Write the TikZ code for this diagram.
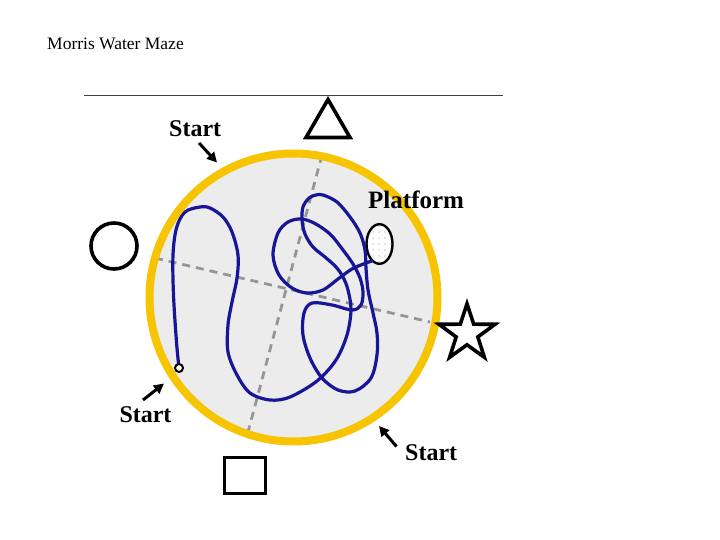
\documentclass[tikz,border=0pt]{standalone}
\usepackage{fontspec}
\setmainfont{Liberation Serif}
\usetikzlibrary{arrows.meta}
\definecolor{ringc}{RGB}{246,196,0}
\definecolor{poolc}{RGB}{236,236,236}
\definecolor{swimc}{RGB}{22,22,150}
\definecolor{axisc}{RGB}{150,150,150}
\begin{document}
\begin{tikzpicture}[x=1pt,y=-1pt,
  sym/.style={draw=black, line width=3.6pt, line join=miter},
  axisline/.style={draw=axisc, line width=2.8pt, dash pattern=on 8pt off 6pt},
  swimline/.style={draw=swimc, line width=3.2pt, line join=round, line cap=round},
  arr/.style={draw=black, line width=3pt, -{Triangle[length=10pt,width=10pt]}},
  lab/.style={anchor=base west, inner sep=0pt, font=\bfseries\fontsize{24}{24}\selectfont}]
\useasboundingbox (0,0) rectangle (720,540);

% title and rule
\node[anchor=base west, inner sep=0pt, font=\fontsize{17.5}{20}\selectfont] (title) at (47,50) {Morris Water Maze};
\coordinate (ruleA) at (84,96);
\coordinate (ruleB) at (503,96);
\draw[black!75, line width=1pt] (ruleA) -- (ruleB);

% pool
\node[circle, fill=poolc, minimum size=288pt, inner sep=0pt] (pool) at (293.5,297.5) {};

% quadrant axes
\coordinate (vA) at (322,155);
\coordinate (vB) at (248,432);
\coordinate (hA) at (155,258);
\coordinate (hB) at (430,322);
\draw[axisline] (vA) -- (vB);
\draw[axisline] (hA) -- (hB);

% platform
\coordinate (plat) at (379.5,244);
\begin{scope}
  \clip (plat) ellipse [x radius=13pt, y radius=19.8pt];
  \fill[white] (plat) ellipse [x radius=13pt, y radius=19.8pt];
  \foreach \px in {367,373,...,391} {
    \foreach \py in {226,232,...,262} {
      \fill[black!45] (\px,\py) circle (0.6pt);
    }
  }
\end{scope}
\draw[black, line width=2.4pt] (plat) ellipse [x radius=13pt, y radius=19.8pt];

% swim path
\draw[swimline] plot[smooth, tension=0.55] coordinates {
 (179,368) (176.5,342) (173.5,295) (173,255) (176.5,228) (185,212) (200,207)
 (210,208) (223,217) (232,232) (238,255) (237,278) (232,302) (228,325)
 (228,352) (237,375) (250,393) (270,400) (290,397) (317,381) (336,360)
 (347,335) (351,310) (348,290) (343,277) (336,267) (325,257) (313,247)
 (305,234) (302,220) (303,207) (309,198) (316,195) (323,195) (337,202)
 (350,217) (360,233) (365,250) (366,268) (368,290) (373,313) (377,333)
 (377,355) (371,378) (355,391) (338,390) (322,378) (310,358) (303,335)
 (304,313) (312,303) (332,305) (352,310) (361,305) (363,292) (360,278)
 (353,264) (343,250) (330,234) (314,223) (301,219) (288,222) (278,233)
 (273,255) (279,275) (292,288) (307,293) (323,290) (338,279) (352,269)
 (366,263) (372,261)};
\node[circle, draw=black, fill=white, line width=2pt, minimum size=8pt, inner sep=0pt] (startpt) at (179,368) {};

% pool wall
\draw[draw=ringc, line width=8pt] (pool.center) circle (144pt);

% cues
\draw[sym] (328,99.5) coordinate (triTop) -- (350,137.5) -- (306,137.5) -- cycle;
\node[circle, sym, minimum size=46pt, inner sep=0pt] (cueCircle) at (114,246) {};
\node[rectangle, sym, minimum width=41pt, minimum height=36pt, inner sep=0pt] (cueSquare) at (245,475.5) {};
\coordinate (starC) at (467,333.4);
\draw[sym] (starC) +(90:29.5pt) -- +(126:11.4pt) -- +(162:29.5pt) -- +(198:11.4pt)
  -- +(234:29.5pt) -- +(270:11.4pt) -- +(306:29.5pt) -- +(342:11.4pt)
  -- +(18:29.5pt) -- +(54:11.4pt) -- cycle;

% labels
\node[lab] (startTop) at (169,136.7) {Start};
\node[lab, font=\bfseries\fontsize{25}{25}\selectfont] (platLab) at (368,208.3) {Platform};
\node[lab] (startBL) at (119.3,422.7) {Start};
\node[lab] (startBR) at (405,460) {Start};

% arrows
\coordinate (a1s) at (199,143);
\coordinate (a1e) at (217,162.5);
\coordinate (a2s) at (143,400);
\coordinate (a2e) at (164,383.5);
\coordinate (a3s) at (396.5,446.5);
\coordinate (a3e) at (379,426);
\draw[arr] (a1s) -- (a1e);
\draw[arr] (a2s) -- (a2e);
\draw[arr] (a3s) -- (a3e);
\end{tikzpicture}
\end{document}
